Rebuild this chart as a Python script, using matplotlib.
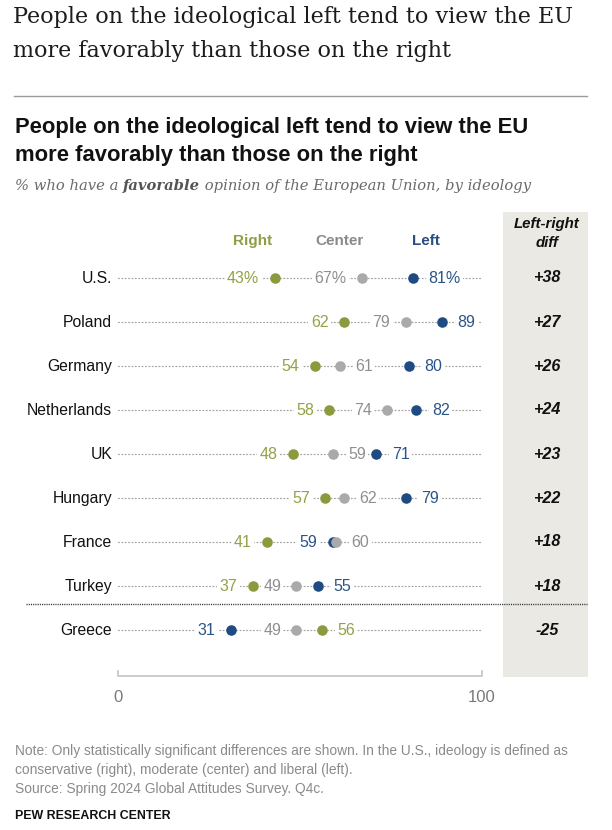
import matplotlib
matplotlib.use("Agg")
import matplotlib.pyplot as plt
from matplotlib.lines import Line2D
from matplotlib.patches import Rectangle

# ---------------- data ----------------
countries = ["U.S.", "Poland", "Germany", "Netherlands", "UK", "Hungary", "France", "Turkey", "Greece"]
right_vals = [43, 62, 54, 58, 48, 57, 41, 37, 56]
center_vals = [67, 79, 61, 74, 59, 62, 60, 49, 49]
left_vals = [81, 89, 80, 82, 71, 79, 59, 55, 31]
diff_labels = ["+38", "+27", "+26", "+24", "+23", "+22", "+18", "+18", "-25"]
series_names = ["Right", "Center", "Left"]
axis_ticks = [0, 100]

# ---------------- style ----------------
W, H = 612, 830
SANS = ["Liberation Sans", "DejaVu Sans"]
SERIF = ["DejaVu Serif"]
dot_colors = {"Right": "#8a9a3c", "Center": "#aaaaaa", "Left": "#1e4b84"}
txt_colors = {"Right": "#93a246", "Center": "#8f8f8f", "Left": "#2a5488"}
head_colors = {"Right": "#8f9d45", "Center": "#8a8a8a", "Left": "#2a4f80"}
# side of the middle value label (min always left, max always right)
mid_side = ["left", "left", "right", "left", "right", "right", "left", "left", "left"]

fig = plt.figure(figsize=(W / 100, H / 100), dpi=100)
fig.patch.set_facecolor("white")


def ftxt(x, y, s, **kw):
    return fig.text(x / W, 1 - y / H, s, **kw)


# top serif headline
ftxt(13, 17, "People on the ideological left tend to view the EU", family=SERIF,
     fontsize=16.0, color="#1c1c1c", va="center")
ftxt(13, 51, "more favorably than those on the right", family=SERIF,
     fontsize=16.0, color="#1c1c1c", va="center")
fig.add_artist(Line2D([14 / W, 587 / W], [1 - 96 / H] * 2, color="#9a9a9a", lw=1.0))

# inner chart title
ftxt(15, 128, "People on the ideological left tend to view the EU", family=SANS,
     fontsize=15.8, fontweight="bold", color="#111111", va="center")
ftxt(15, 155, "more favorably than those on the right", family=SANS,
     fontsize=15.8, fontweight="bold", color="#111111", va="center")

# subtitle with bold italic word
fig.canvas.draw()
r = fig.canvas.get_renderer()
x = 15
for piece, wgt in [("% who have a ", "normal"), ("favorable", "bold"),
                   (" opinion of the European Union, by ideology", "normal")]:
    t = ftxt(x, 186, piece, family=SERIF, fontsize=10.6, style="italic",
             fontweight=wgt, color="#6b6b6b" if wgt == "normal" else "#555555", va="center")
    bb = t.get_window_extent(renderer=r)
    x += bb.width

# diff column background
fig.add_artist(Rectangle((503 / W, 1 - 677 / H), 85 / W, (677 - 212) / H,
                         transform=fig.transFigure, facecolor="#ebe9e3", edgecolor="none", zorder=0))
ftxt(547, 224, "Left-right", family=SANS, fontsize=10.8, fontweight="bold",
     style="italic", color="#111111", ha="center", va="center")
ftxt(547, 243, "diff", family=SANS, fontsize=10.8, fontweight="bold",
     style="italic", color="#111111", ha="center", va="center")

# column headers
for name, px in zip(series_names, [253, 339, 426]):
    ftxt(px, 241, name, family=SANS, fontsize=11, fontweight="bold",
         color=head_colors[name], ha="center", va="center")

# ---------------- chart axes ----------------
ROW0, STEP = 278, 44
top_px, bot_px = 200, 700
ax = fig.add_axes([118 / W, 1 - bot_px / H, 364 / W, (bot_px - top_px) / H])
ax.set_xlim(axis_ticks[0], axis_ticks[-1])
ax.set_ylim((bot_px - ROW0) / STEP, (top_px - ROW0) / STEP)
ax.axis("off")

for i, c in enumerate(countries):
    ax.plot([0, 100], [i, i], color="#a5a5a5", lw=0.9, ls=(0, (0.7, 2.0)),
            solid_capstyle="round", dash_capstyle="round", zorder=1)
    ax.text(-1.6, i, c, family=SANS, fontsize=11.3, color="#111111",
            ha="right", va="center")
    ftxt(547, ROW0 + STEP * i, diff_labels[i], family=SANS, fontsize=11.6,
         fontweight="bold", style="italic", color="#111111", ha="center", va="center")

    vals = {"Right": right_vals[i], "Center": center_vals[i], "Left": left_vals[i]}
    order = sorted(series_names, key=lambda s: vals[s])
    sides = {order[0]: "left", order[1]: mid_side[i], order[2]: "right"}
    for s in ["Right", "Left", "Center"]:
        v = vals[s]
        ax.plot([v], [i], marker="o", ms=7.6, color=dot_colors[s], mec="none", zorder=4)
        lab = f"{v}%" if i == 0 else f"{v}"
        side = sides[s]
        dx = -11 if side == "left" else 11
        ax.annotate(lab, (v, i), xytext=(dx, -0.5), textcoords="offset points",
                    ha="right" if side == "left" else "left", va="center",
                    family=SANS, fontsize=11.5, color=txt_colors[s], zorder=3,
                    bbox=dict(boxstyle="square,pad=0.15", fc="white", ec="none"))

# separator above Greece
fig.add_artist(Line2D([26 / W, 587 / W], [1 - 604 / H] * 2, color="#333333",
                      lw=1.0, ls=(0, (0.8, 0.8))))

# x axis
ya = (676 - ROW0) / STEP
tk = 5 / STEP
ax.plot([0, 0, 100, 100], [ya - tk, ya, ya, ya - tk], color="#c4c4c4", lw=1.2,
        clip_on=False, zorder=1)
for t in axis_ticks:
    ax.text(t, (697 - ROW0) / STEP, str(t), family=SANS, fontsize=12,
            color="#7a7a7a", ha="center", va="center")

# footnotes
foot = ["Note: Only statistically significant differences are shown. In the U.S., ideology is defined as",
        "conservative (right), moderate (center) and liberal (left).",
        "Source: Spring 2024 Global Attitudes Survey. Q4c."]
for k, line in enumerate(foot):
    ftxt(15, 751 + 19 * k, line, family=SANS, fontsize=9.9, color="#8a8a8a", va="center")
ftxt(15, 816, "PEW RESEARCH CENTER", family=SANS, fontsize=8.9, fontweight="bold",
     color="#111111", va="center")

fig.savefig("out.png", dpi=100, facecolor="white")
